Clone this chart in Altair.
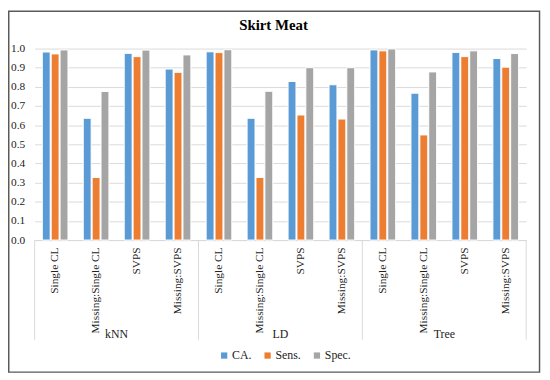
import altair as alt
import pandas as pd

# ---- data ----
title_text = ["Skirt Meat"]
groups = ["kNN", "LD", "Tree"]
subsets = ["Single CL", "Missing:Single CL", "SVPS", "Missing:SVPS"]
series = ["CA.", "Sens.", "Spec."]

ca = [0.982, 0.636, 0.975, 0.893,
      0.983, 0.636, 0.828, 0.811,
      0.993, 0.767, 0.980, 0.948]
sens = [0.972, 0.327, 0.958, 0.876,
        0.979, 0.327, 0.653, 0.632,
        0.988, 0.549, 0.958, 0.903]
spec = [0.993, 0.776, 0.992, 0.967,
        0.994, 0.777, 0.900, 0.900,
        0.998, 0.878, 0.988, 0.974]

colors = ["#5B9BD5", "#ED7D31", "#A5A5A5"]
FONT = "Liberation Serif"

keys = [f"{g}|{s}" for g in groups for s in subsets]
rows = []
for name, vals in zip(series, [ca, sens, spec]):
    for k, v in zip(keys, vals):
        rows.append({"key": k, "series": name, "value": v})
df = pd.DataFrame(rows)

xscale = alt.Scale(domain=keys, paddingInner=0, paddingOuter=0)

bars = alt.Chart(df).mark_bar(stroke="white", strokeWidth=1).encode(
    x=alt.X("key:N", scale=xscale, sort=keys,
            axis=alt.Axis(title=None, labelExpr="split(datum.label, '|')[1]",
                          labelAngle=-90, labelAlign="right", labelBaseline="middle",
                          labelPadding=7, ticks=False, domain=True,
                          domainColor="#D9D9D9", labelFont=FONT, labelFontSize=11.5,
                          labelColor="#222222", grid=False)),
    xOffset=alt.XOffset("series:N", sort=series,
                        scale=alt.Scale(paddingInner=0.11, paddingOuter=0.86)),
    y=alt.Y("value:Q", scale=alt.Scale(domain=[0, 1], nice=False),
            axis=alt.Axis(title=None, values=[i / 10 for i in range(11)], format=".1f",
                          grid=True, gridColor="#D9D9D9", domain=False, ticks=False,
                          labelPadding=10, labelFont=FONT, labelFontSize=11.5,
                          labelColor="#222222")),
    color=alt.Color("series:N", sort=series,
                    scale=alt.Scale(domain=series, range=colors),
                    legend=alt.Legend(title=None, orient="none", direction="horizontal",
                                      legendX=186, legendY=305, symbolType="square",
                                      symbolSize=40, symbolStrokeWidth=0,
                                      labelFont=FONT, labelFontSize=12,
                                      labelColor="#222222", columnPadding=10,
                                      labelOffset=2)),
)

# group separators
sep_start = pd.DataFrame({"key": [f"{g}|{subsets[0]}" for g in groups]})
sep_end = pd.DataFrame({"key": [f"{groups[-1]}|{subsets[-1]}"]})
sep1 = alt.Chart(sep_start).mark_rule(color="#D9D9D9", strokeWidth=1).encode(
    x=alt.X("key:N", bandPosition=0, scale=xscale, sort=keys),
    y=alt.value(194), y2=alt.value(295))
sep2 = alt.Chart(sep_end).mark_rule(color="#D9D9D9", strokeWidth=1).encode(
    x=alt.X("key:N", bandPosition=1, scale=xscale, sort=keys),
    y=alt.value(194), y2=alt.value(295))

# group labels
glab = pd.DataFrame({"key": [f"{g}|{subsets[1]}" for g in groups], "group": groups})
labels = alt.Chart(glab).mark_text(font=FONT, fontSize=12, color="#222222",
                                   baseline="middle").encode(
    x=alt.X("key:N", bandPosition=1, scale=xscale, sort=keys),
    y=alt.value(289),
    text="group:N")

# title as text
title = alt.Chart(pd.DataFrame({"t": title_text})).mark_text(
    font=FONT, fontSize=15, fontWeight="bold", color="#000000",
    baseline="alphabetic", align="center").encode(
    x=alt.value(242), y=alt.value(-18.4), text="t:N")

# outer border
border = alt.Chart(pd.DataFrame({"a": [0]})).mark_rect(
    fill=None, stroke="#5A5A5A", strokeWidth=1.5).encode(
    x=alt.value(-26.25), x2=alt.value(511.5), y=alt.value(-37.9), y2=alt.value(327.8))

chart = alt.layer(border, bars, sep1, sep2, labels, title).properties(
    width=498, height=194,
    autosize=alt.AutoSizeParams(type="none"),
    padding={"left": 27, "top": 38.7, "right": 16, "bottom": 135},
).configure(font=FONT).configure_view(stroke=None)

chart.save("out.html", embed_options={"renderer": "svg", "actions": False})
